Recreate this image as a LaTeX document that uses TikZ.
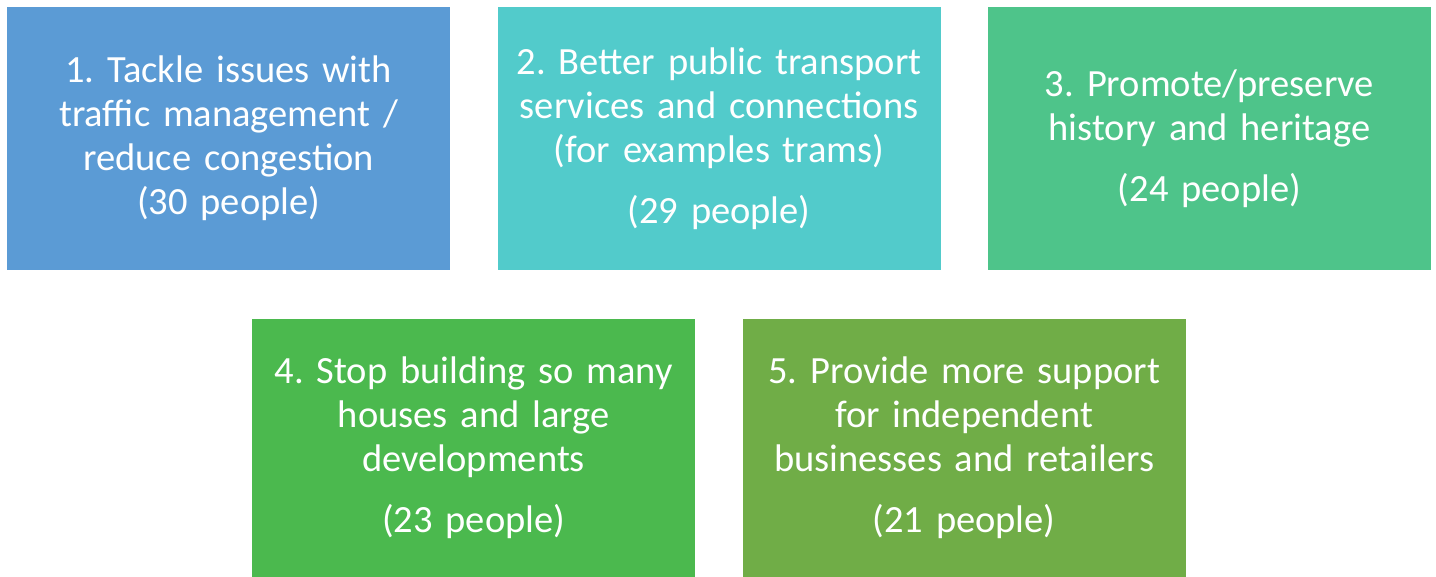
\documentclass[tikz,border=0pt]{standalone}
\usepackage{fontspec}
\setmainfont{Carlito}
\usepackage{xcolor}
\usetikzlibrary{positioning}

\definecolor{boxblue}{HTML}{5B9BD5}
\definecolor{boxteal}{HTML}{52CBCB}
\definecolor{boxmint}{HTML}{4EC48A}
\definecolor{boxgreen}{HTML}{4BB94E}
\definecolor{boxolive}{HTML}{70AD47}

\tikzset{
    issue/.style={rectangle, inner sep=0pt, minimum width=443pt, text width=436pt,
        align=center, text=white, font=\fontsize{38.5}{44}\selectfont}
}

\frenchspacing
\begin{document}
\begin{tikzpicture}[x=1pt, y=-1pt]
    \useasboundingbox (0,0) rectangle (1436,577);

    \node[issue, minimum height=263pt, fill=boxblue, anchor=north west] at (7,7) (tackle) {
        1. Tackle issues with\\
        traffic management /\\
        reduce congestion\\
        (30 people)
    };
    \node[issue, minimum height=263pt, fill=boxteal, right=47pt of tackle] (transport) {
        2. Better public transport\\
        services and connections\\
        (for examples trams)\\[17pt]
        (29 people)
    };
    \node[issue, minimum height=263pt, fill=boxmint, right=47pt of transport] (heritage) {
        3. Promote/preserve\\
        history and heritage\\[17pt]
        (24 people)
    };
    \node[issue, minimum height=258pt, fill=boxgreen, anchor=north west] at (252,319) (houses) {
        4. Stop building so many\\
        houses and large\\
        developments\\[17pt]
        (23 people)
    };
    \node[issue, minimum height=258pt, fill=boxolive, right=47pt of houses] (support) {
        5. Provide more support\\
        for independent\\
        businesses and retailers\\[17pt]
        (21 people)
    };
\end{tikzpicture}
\end{document}
